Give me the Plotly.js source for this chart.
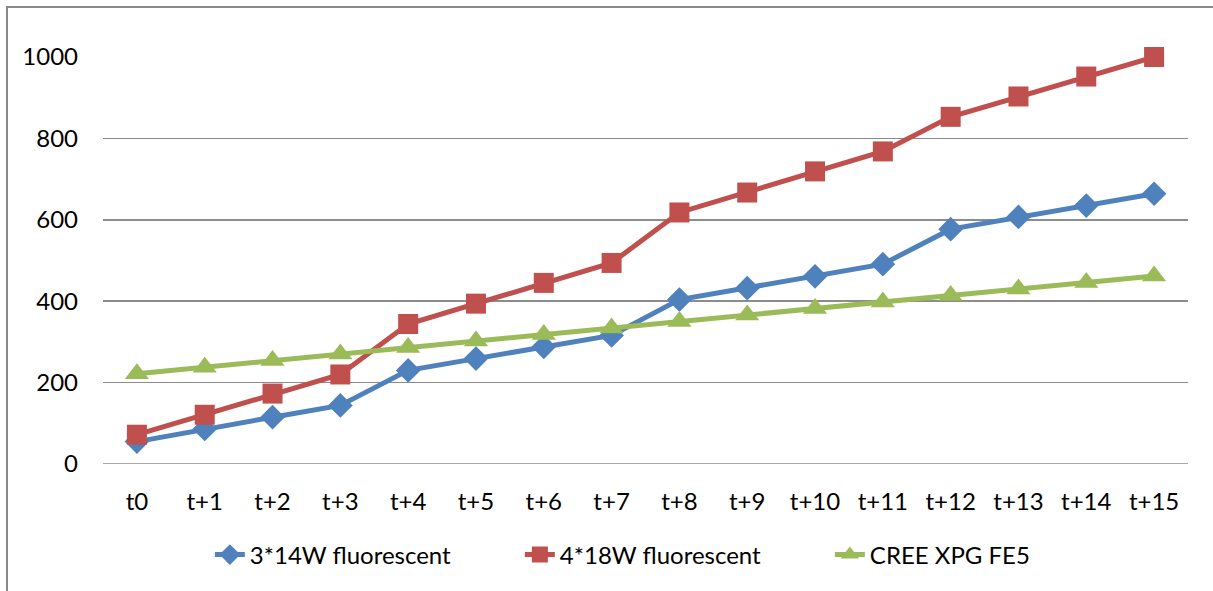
<!DOCTYPE html>
<html>
<head>
<meta charset="utf-8">
<script src="https://cdn.plot.ly/plotly-3.0.1.min.js"></script>
<style>
  html, body { margin: 0; padding: 0; background: #fff; }
  #wrap { position: relative; width: 1213px; height: 591px; overflow: hidden; }
  #chart { position: absolute; left: 0; top: 0; width: 1213px; height: 591px; }
  #frame { position: absolute; left: 6px; top: 6px; width: 1220px; height: 600px;
           border-left: 2px solid #888; border-top: 2px solid #888; pointer-events: none; }
</style>
</head>
<body>
<div id="wrap">
  <div id="chart"></div>
  <div id="frame"></div>
</div>
<script>
const categories = ["t0","t+1","t+2","t+3","t+4","t+5","t+6","t+7","t+8","t+9","t+10","t+11","t+12","t+13","t+14","t+15"];
const seriesNames = ["3*14W fluorescent", "4*18W fluorescent", "CREE XPG FE5"];
const fluor3x14 = [55, 86, 115, 144, 230, 259, 288, 316, 404, 432, 461, 491, 577, 607, 635, 664];
const fluor4x18 = [72, 121, 173, 220, 344, 394, 445, 494, 618, 667, 719, 768, 853, 903, 952, 1000];
const creeXpg   = [222, 238, 254, 270, 286, 302, 318, 334, 350, 366, 382, 398, 414, 430, 446, 462];
const yTicks = [0, 200, 400, 600, 800, 1000];

const FONT = "Lato, 'Open Sans', 'Liberation Sans', sans-serif";
const FS = 24;

const traces = [
  { x: categories, y: fluor3x14, name: seriesNames[0], type: "scatter", mode: "lines+markers",
    cliponaxis: false,
    line: { color: "#4F81BD", width: 5 },
    marker: { symbol: "diamond", size: 19, color: "#4F81BD" } },
  { x: categories, y: fluor4x18, name: seriesNames[1], type: "scatter", mode: "lines+markers",
    cliponaxis: false,
    line: { color: "#C0504D", width: 5 },
    marker: { symbol: "square", size: 20, color: "#C0504D" } },
  { x: categories, y: creeXpg, name: seriesNames[2], type: "scatter", mode: "lines+markers",
    cliponaxis: false,
    line: { color: "#9BBB59", width: 5 },
    marker: { symbol: "triangle-up", size: 21, color: "#9BBB59" } }
];

const layout = {
  width: 1213, height: 591,
  margin: { l: 103, r: 25, t: 57, b: 127, pad: 0 },
  paper_bgcolor: "#ffffff", plot_bgcolor: "#ffffff",
  font: { family: FONT, size: FS, color: "#000" },
  showlegend: true,
  legend: { orientation: "h", x: 0.0985, xanchor: "left", y: -0.2236, yanchor: "middle",
            entrywidth: 265, entrywidthmode: "pixels",
            font: { family: FONT, size: FS, color: "#000" }, traceorder: "normal" },
  xaxis: { type: "category", range: [-0.5, 15.5], showgrid: false, zeroline: false,
           showline: false, ticks: "", ticklabelstandoff: 21, automargin: false,
           tickfont: { family: FONT, size: FS, color: "#000" }, fixedrange: true },
  yaxis: { range: [0, 1000], tickvals: yTicks, ticktext: yTicks.map(String),
           showgrid: true, gridcolor: "#8c8c8c", gridwidth: 1.5, zeroline: false,
           showline: false, ticks: "", ticklabelstandoff: 24, automargin: false,
           tickfont: { family: FONT, size: FS, color: "#000" }, fixedrange: true },
  shapes: [
    { type: "line", xref: "paper", yref: "y", x0: 0, x1: 1, y0: 0, y1: 0,
      line: { color: "#8c8c8c", width: 1.5 }, layer: "below" }
  ]
};

Plotly.newPlot("chart", traces, layout, { displayModeBar: false, staticPlot: true });
</script>
</body>
</html>
